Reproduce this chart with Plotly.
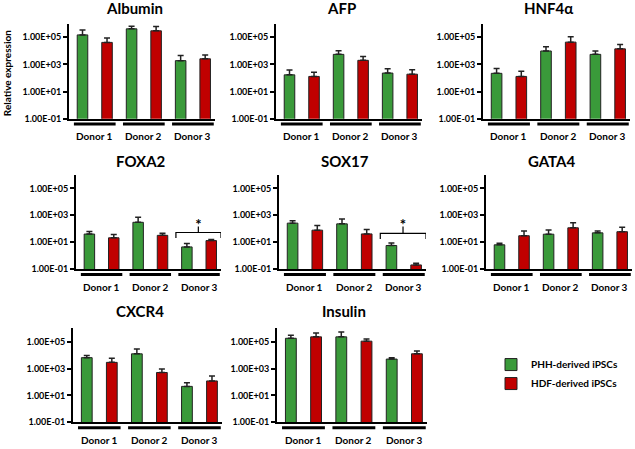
import plotly.graph_objects as go

W, H = 635, 449

# ---------------- data ----------------
donors = ["Donor 1", "Donor 2", "Donor 3"]
series_names = ["PHH-derived iPSCs", "HDF-derived iPSCs"]
genes = ["Albumin", "AFP", "HNF4α", "FOXA2", "SOX17", "GATA4", "CXCR4", "Insulin"]
tick_vals = [0.1, 10, 1000, 100000]
tick_text = ["1.00E-01", "1.00E+01", "1.00E+03", "1.00E+05"]

albumin_phh = [1.5e5, 4.2e5, 1.9e3]
albumin_phh_err = [2.0e5, 2.3e5, 2.6e3]
albumin_hdf = [4.2e4, 3.0e5, 2.6e3]
albumin_hdf_err = [4.5e4, 3.2e5, 2.4e3]

afp_phh = [170, 5.5e3, 230]
afp_phh_err = [210, 4.5e3, 240]
afp_hdf = [130, 2.0e3, 190]
afp_hdf_err = [130, 1.8e3, 210]

hnf4a_phh = [220, 9.8e3, 5.5e3]
hnf4a_phh_err = [280, 1.0e4, 4.3e3]
hnf4a_hdf = [130, 4.4e4, 1.4e4]
hnf4a_hdf_err = [190, 6.6e4, 1.6e4]

foxa2_phh = [40, 300, 4.4]
foxa2_phh_err = [22, 400, 3.6]
foxa2_hdf = [21, 32, 13]
foxa2_hdf_err = [16, 13, 3]

sox17_phh = [260, 230, 5.6]
sox17_phh_err = [140, 290, 3.1]
sox17_hdf = [78, 41, 0.2]
sox17_hdf_err = [97, 48, 0.07]

gata4_phh = [6.3, 39, 49]
gata4_phh_err = [2, 41, 19]
gata4_hdf = [30, 117, 60]
gata4_hdf_err = [38, 163, 70]

cxcr4_phh = [6.5e3, 1.25e4, 47]
cxcr4_phh_err = [3.0e3, 1.65e4, 40]
cxcr4_hdf = [2.9e3, 510, 120]
cxcr4_hdf_err = [2.9e3, 410, 160]

insulin_phh = [1.8e5, 2.3e5, 5.1e3]
insulin_phh_err = [1.2e5, 3.0e5, 1.4e3]
insulin_hdf = [2.3e5, 1.1e5, 1.26e4]
insulin_hdf_err = [2.2e5, 5.0e4, 7.4e3]

# significance bracket (Donor 3, FOXA2 and SOX17): ends, top, tick top, star anchor
bracket_foxa2 = [20, 52, 145, 150]
bracket_sox17 = [17, 45, 145, 155]

# ---------------- layout helpers ----------------
GREEN = "#3a9a3a"
RED = "#c00000"
FONT = "Lato"

panels = [
    # gene, phh, phh_err, hdf, hdf_err, x-domain px, row
    ("Albumin", albumin_phh, albumin_phh_err, albumin_hdf, albumin_hdf_err, (69, 215), 0),
    ("AFP", afp_phh, afp_phh_err, afp_hdf, afp_hdf_err, (276, 422), 0),
    ("HNF4α", hnf4a_phh, hnf4a_phh_err, hnf4a_hdf, hnf4a_hdf_err, (483, 630), 0),
    ("FOXA2", foxa2_phh, foxa2_phh_err, foxa2_hdf, foxa2_hdf_err, (76, 221), 1),
    ("SOX17", sox17_phh, sox17_phh_err, sox17_hdf, sox17_hdf_err, (279, 426), 1),
    ("GATA4", gata4_phh, gata4_phh_err, gata4_hdf, gata4_hdf_err, (486, 632), 1),
    ("CXCR4", cxcr4_phh, cxcr4_phh_err, cxcr4_hdf, cxcr4_hdf_err, (73, 222), 2),
    ("Insulin", insulin_phh, insulin_phh_err, insulin_hdf, insulin_hdf_err, (277, 427), 2),
]
row_y = [(24, 120), (177, 272), (332, 427)]   # top, bottom px
title_y = [8, 163, 314]

def fx(px):
    return px / W

def fy(py):
    return 1 - py / H

fig = go.Figure()
layout = dict(
    width=W, height=H,
    margin=dict(l=0, r=0, t=0, b=0),
    paper_bgcolor="white", plot_bgcolor="white",
    font=dict(family=FONT, size=9, color="black", weight="bold"),
    barmode="overlay",
    showlegend=True,
    legend=dict(x=fx(491), y=fy(354), xanchor="left", yanchor="top",
                font=dict(family=FONT, size=10, color="black", weight="bold"),
                bgcolor="rgba(0,0,0,0)", tracegroupgap=0, itemclick=False),
    shapes=[], annotations=[],
)

XR = [-0.55, 5.4]
for i, (gene, phh, phh_e, hdf, hdf_e, xd, row) in enumerate(panels):
    n = "" if i == 0 else str(i + 1)
    xa, ya = "x" + n, "y" + n
    top, bot = row_y[row]
    layout["xaxis" + n] = dict(
        domain=[fx(xd[0]), fx(xd[1])], anchor=ya, range=XR,
        showticklabels=False, ticks="", showgrid=False, zeroline=False,
        showline=True, linecolor="black", linewidth=2, fixedrange=True)
    layout["yaxis" + n] = dict(
        domain=[fy(bot), fy(top)], anchor=xa, type="log", range=[-1, 6],
        tickvals=tick_vals, ticktext=tick_text, ticks="outside", ticklen=4,
        tickwidth=1.5, tickcolor="black", showgrid=False, zeroline=False,
        showline=True, linecolor="black", linewidth=2,
        tickfont=dict(family=FONT, size=9, color="black", weight="bold"))
    for s, (vals, errs, col) in enumerate([(phh, phh_e, GREEN), (hdf, hdf_e, RED)]):
        fig.add_trace(go.Bar(
            x=[2 * g + s for g in range(len(donors))], y=vals, xaxis=xa, yaxis=ya,
            width=0.43, name=series_names[s], legendgroup=series_names[s],
            showlegend=(i == 0),
            marker=dict(color=col, line=dict(color="#222222", width=1)),
            error_y=dict(type="data", array=errs, arrayminus=[0] * len(errs),
                         symmetric=False, color="#222222", thickness=1.5, width=3)))
    # donor underlines and labels
    for g, d in enumerate(donors):
        layout["shapes"].append(dict(
            type="line", xref=xa, yref="paper", x0=2 * g - 0.35, x1=2 * g + 1.35,
            y0=fy(bot + 5.5), y1=fy(bot + 5.5), line=dict(color="black", width=3)))
        layout["annotations"].append(dict(
            xref=xa, yref="paper", x=2 * g + 0.5, y=fy(bot + 18), text=d,
            showarrow=False, xanchor="center", yanchor="middle",
            font=dict(family=FONT, size=10, color="black", weight="bold")))
    # title
    layout["annotations"].append(dict(
        xref="paper", yref="paper", x=fx((xd[0] + xd[1]) / 2 - 8), y=fy(title_y[row]),
        text=gene, showarrow=False, xanchor="center", yanchor="middle",
        font=dict(family=FONT, size=15, color="black", weight="bold")))

    if gene in ("FOXA2", "SOX17"):
        b = bracket_foxa2 if gene == "FOXA2" else bracket_sox17
        fig.add_trace(go.Scatter(
            x=[3.55, 3.55, 5.4, 5.4, None, 4.47, 4.47],
            y=[b[0], b[1], b[1], b[0], None, b[1], b[2]],
            xaxis=xa, yaxis=ya, mode="lines", showlegend=False, cliponaxis=False,
            line=dict(color="black", width=1.2), hoverinfo="skip"))
        fig.add_trace(go.Scatter(
            x=[4.47], y=[b[3]], xaxis=xa, yaxis=ya, mode="text", text=["*"],
            textposition="middle center", showlegend=False, cliponaxis=False,
            textfont=dict(family=FONT, size=15, color="black"), hoverinfo="skip"))

layout["annotations"].append(dict(
    xref="paper", yref="paper", x=fx(7), y=fy(74), text="Relative expression",
    textangle=-90, showarrow=False, xanchor="center", yanchor="middle",
    font=dict(family=FONT, size=10, color="black", weight="bold")))

fig.update_layout(**layout)
fig.write_html(
    "out.html",
    config={"displayModeBar": False},
    post_script="document.body.style.margin='0';document.body.style.overflow='hidden';",
)
